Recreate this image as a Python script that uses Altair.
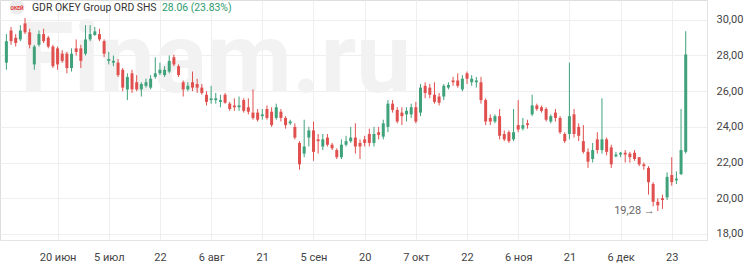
import altair as alt
import pandas as pd

# ---- data ----
dates = [d.strftime("%Y-%m-%d") for d in pd.bdate_range("2024-06-05", "2024-12-26")]

opens = [27.6, 29.4, 29.0, 28.9, 29.8, 29.3, 27.5, 28.6, 29.2, 29.0,
         28.5, 28.4, 28.1, 28.1, 27.3, 28.4, 28.4, 28.1, 28.9, 29.15,
         29.2, 28.8, 27.7, 27.6, 27.6, 27.2, 26.1, 27.0, 26.5, 26.1,
         26.3, 26.2, 26.8, 27.0, 26.9, 27.1, 27.9, 27.4, 26.5, 26.1,
         26.5, 26.4, 26.2, 25.8, 25.5, 25.5, 25.4, 25.8, 25.3, 25.2,
         25.1, 25.5, 25.1, 24.8, 24.8, 24.6, 25.0, 24.85, 24.5, 24.85,
         24.5, 24.2, 24.0, 23.1, 22.5, 23.4, 23.8, 23.3, 22.9, 23.4,
         23.0, 22.7, 22.3, 23.0, 23.2, 23.4, 23.1, 23.3, 23.6, 23.1,
         23.7, 23.45, 24.0, 25.3, 24.95, 24.8, 24.7, 24.7, 25.1, 24.8,
         26.3, 26.2, 25.8, 25.7, 25.7, 26.2, 26.6, 26.6, 26.1, 27.0,
         26.5, 26.5, 26.5, 25.5, 24.5, 24.3, 24.6, 23.6, 23.7, 23.3,
         24.1, 23.9, 24.2, 24.7, 25.2, 25.1, 25.0, 24.3, 24.8, 24.5,
         23.6, 23.6, 24.7, 24.0, 23.2, 22.6, 22.2, 23.3, 22.7, 23.3,
         22.85, 22.35, 22.45, 22.55, 22.5, 22.55, 22.3, 21.9, 21.7, 20.8,
         19.8, 20.0, 20.05, 21.3, 21.0, 21.35, 22.6]
highs = [29.2, 29.6, 29.2, 29.7, 30.1, 29.5, 28.6, 29.4, 29.5, 29.1,
         28.6, 28.5, 28.3, 28.2, 28.4, 28.9, 28.6, 29.7, 29.7, 29.6,
         29.5, 28.9, 28.2, 28.0, 27.8, 27.3, 27.0, 27.2, 26.9, 26.5,
         26.7, 26.9, 27.9, 27.6, 27.4, 28.0, 28.05, 27.5, 26.6, 26.5,
         27.1, 26.7, 26.4, 26.0, 26.3, 25.9, 25.8, 25.9, 25.4, 25.6,
         25.7, 25.6, 25.6, 26.1, 25.0, 25.0, 25.2, 25.1, 25.3, 25.0,
         24.6, 24.4, 24.2, 23.2, 24.4, 24.0, 24.3, 23.6, 23.6, 23.6,
         23.1, 22.8, 23.3, 23.5, 24.0, 24.2, 23.3, 23.5, 23.9, 24.0,
         24.0, 24.4, 25.5, 25.5, 25.1, 25.1, 25.1, 25.3, 25.4, 26.4,
         26.5, 26.4, 26.5, 25.9, 26.4, 26.5, 26.8, 27.0, 26.9, 27.1,
         26.9, 26.8, 26.8, 25.6, 24.7, 24.7, 25.0, 23.8, 23.8, 25.0,
         25.5, 24.5, 24.4, 25.8, 25.3, 25.2, 25.1, 24.7, 25.0, 24.6,
         23.7, 27.6, 25.0, 24.2, 24.1, 22.8, 23.1, 23.7, 25.6, 23.4,
         23.0, 22.6, 22.6, 22.7, 22.6, 22.7, 22.3, 22.0, 21.8, 20.9,
         20.0, 20.2, 21.45, 22.3, 21.5, 25.0, 29.36]
lows = [27.2, 28.6, 28.5, 28.8, 29.2, 28.4, 27.2, 28.5, 28.7, 28.4,
        27.3, 27.2, 27.6, 27.0, 27.1, 28.0, 27.3, 28.0, 28.8, 29.1,
        28.8, 27.9, 27.5, 27.4, 26.8, 26.0, 25.5, 25.9, 26.0, 25.7,
        26.2, 26.1, 26.7, 26.9, 26.8, 27.0, 27.4, 26.8, 25.7, 26.0,
        26.0, 25.9, 25.8, 25.2, 25.3, 25.3, 25.1, 25.3, 24.9, 24.9,
        24.9, 24.8, 24.7, 24.4, 24.3, 24.4, 24.4, 24.0, 24.4, 24.3,
        23.9, 24.1, 23.3, 21.6, 22.3, 22.9, 22.1, 22.5, 22.7, 22.9,
        22.7, 22.2, 22.2, 22.9, 23.1, 22.5, 22.2, 22.9, 22.9, 22.9,
        23.3, 23.3, 23.7, 24.8, 24.2, 24.1, 24.3, 24.5, 24.2, 24.6,
        25.6, 25.6, 25.3, 25.2, 25.5, 26.1, 26.3, 26.2, 26.0, 26.4,
        26.3, 26.2, 25.3, 24.1, 24.1, 24.2, 23.3, 23.2, 23.1, 23.2,
        23.7, 23.8, 23.9, 24.6, 24.9, 24.8, 24.3, 24.2, 24.3, 23.6,
        23.1, 23.3, 23.4, 23.2, 22.5, 21.7, 22.0, 22.5, 22.5, 22.4,
        21.7, 22.3, 22.3, 22.0, 22.0, 22.1, 21.8, 21.6, 20.2, 19.55,
        19.28, 19.4, 19.9, 20.7, 20.8, 21.3, 22.5]
closes = [28.8, 28.8, 28.7, 29.4, 29.3, 28.6, 28.5, 29.2, 28.8, 28.5,
          27.4, 27.5, 27.7, 27.3, 28.1, 28.2, 27.7, 28.9, 29.2, 29.35,
          28.9, 28.1, 27.8, 27.7, 26.9, 26.2, 26.8, 26.1, 26.1, 26.4,
          26.5, 26.7, 27.0, 27.2, 27.2, 27.7, 27.5, 26.9, 26.1, 26.3,
          26.2, 26.2, 25.9, 25.4, 25.6, 25.6, 25.5, 25.35, 25.0, 25.1,
          25.2, 24.9, 24.85, 24.5, 24.4, 24.7, 24.5, 24.1, 25.1, 24.5,
          24.1, 24.3, 23.4, 21.9, 22.9, 23.8, 22.6, 23.2, 23.3, 23.0,
          22.8, 22.3, 23.0, 23.2, 23.4, 22.9, 22.9, 23.1, 23.1, 23.6,
          23.55, 24.2, 25.3, 24.95, 24.3, 24.6, 24.9, 25.1, 24.3, 26.2,
          25.9, 25.8, 25.4, 25.35, 26.3, 26.35, 26.5, 26.3, 26.7, 26.7,
          26.7, 26.6, 25.5, 24.3, 24.3, 24.6, 23.5, 23.3, 23.2, 23.7,
          23.85, 24.1, 24.1, 25.2, 25.0, 24.9, 24.4, 24.6, 24.5, 23.7,
          23.2, 24.6, 23.6, 23.5, 22.6, 22.05, 22.7, 22.7, 23.3, 22.6,
          21.9, 22.45, 22.55, 22.45, 22.3, 22.2, 21.9, 21.8, 20.9, 19.8,
          19.6, 19.9, 21.2, 20.9, 21.1, 22.7, 28.06]

tick_dates = ["2024-06-20", "2024-07-05", "2024-07-22", "2024-08-06", "2024-08-21",
              "2024-09-05", "2024-09-20", "2024-10-07", "2024-10-22", "2024-11-06",
              "2024-11-21", "2024-12-06", "2024-12-23"]
tick_labels = ["20 июн", "5 июл", "22", "6 авг", "21", "5 сен", "20", "7 окт",
               "22", "6 ноя", "21", "6 дек", "23"]
y_ticks = [18, 20, 22, 24, 26, 28, 30]

title_name = "GDR OKEY Group ORD SHS"
title_value = "28.06 (23.83%)"
watermark = "Finam.ru"
logo_text = "ОКЕЙ"

UP = "#3fa27b"
DOWN = "#e0504f"
FONT = "Roboto"

df = pd.DataFrame({
    "i": list(range(len(dates))),
    "date": dates,
    "open": opens, "high": highs, "low": lows, "close": closes,
})
df["dir"] = ["up" if c >= o else "down" for o, c in zip(opens, closes)]

tick_idx = [dates.index(d) for d in tick_dates]
idx_str = ",".join(str(v) for v in tick_idx)
lab_str = ",".join("'" + s + "'" for s in tick_labels)
x_label_expr = f"[{lab_str}][indexof([{idx_str}], datum.value)]"

x_scale = alt.Scale(domain=[-0.3, 149.5], nice=False, zero=False)
y_scale = alt.Scale(domain=[17.66, 31.11], nice=False, zero=False)
color_scale = alt.Scale(domain=["up", "down"], range=[UP, DOWN])

x_axis = alt.Axis(values=tick_idx, labelExpr=x_label_expr, title=None,
                  grid=True, gridColor="#efefef", ticks=False,
                  domain=True, domainColor="#e4e4e4", labelOverlap=False,
                  labelPadding=11, labelFontSize=11, labelColor="#444",
                  labelFont=FONT)
y_axis = alt.Axis(orient="right", values=y_ticks, title=None,
                  labelExpr="replace(format(datum.value, '.2f'), '.', ',')",
                  grid=True, gridColor="#efefef", ticks=False,
                  domain=True, domainColor="#e4e4e4", labelOverlap=False,
                  labelPadding=9, labelFontSize=11, labelColor="#444",
                  labelFont=FONT)


def X(field):
    return alt.X(field, scale=x_scale, axis=x_axis)


def Y(field):
    return alt.Y(field, scale=y_scale, axis=y_axis)


base = alt.Chart(df)

# watermark
wm = alt.Chart(pd.DataFrame({"t": [watermark]})).mark_text(
    align="left", baseline="alphabetic", fontSize=98, fontWeight="bold",
    font=FONT, color="#f2f2f2"
).encode(x=alt.value(20), y=alt.value(92), text="t:N")

wicks = base.mark_rule(strokeWidth=1).encode(
    x=X("i:Q"),
    y=Y("low:Q"),
    y2="high:Q",
    color=alt.Color("dir:N", scale=color_scale, legend=None),
)

bodies = base.mark_bar(size=3).encode(
    x=X("i:Q"),
    y=Y("open:Q"),
    y2="close:Q",
    color=alt.Color("dir:N", scale=color_scale, legend=None),
)

# annotation at minimum low
min_i = lows.index(min(lows))
ann_df = pd.DataFrame({"i": [min_i], "v": [min(lows)],
                       "t": [f"{min(lows):.2f}".replace(".", ",") + " →"]})
ann = alt.Chart(ann_df).mark_text(
    align="right", baseline="middle", dx=-3, fontSize=11, font=FONT, color="#666"
).encode(x=X("i:Q"), y=Y("v:Q"), text="t:N")

# header
logo = alt.Chart(pd.DataFrame({"t": [logo_text]})).mark_circle(
    size=220, color="#ececec", opacity=1
).encode(x=alt.value(17), y=alt.value(7))
logo_t = alt.Chart(pd.DataFrame({"t": [logo_text]})).mark_text(
    fontSize=5, fontWeight="bold", color="#e03030", font=FONT,
    align="center", baseline="middle"
).encode(x=alt.value(17), y=alt.value(7.5), text="t:N")
t1 = alt.Chart(pd.DataFrame({"t": [title_name]})).mark_text(
    align="left", baseline="middle", fontSize=10.4, color="#333", font=FONT
).encode(x=alt.value(32), y=alt.value(8), text="t:N")
t2 = alt.Chart(pd.DataFrame({"t": [title_value]})).mark_text(
    align="left", baseline="middle", fontSize=10.4, color="#2e9a6c", font=FONT
).encode(x=alt.value(162), y=alt.value(8), text="t:N")

chart = alt.layer(wm, wicks, bodies, ann, logo, logo_t, t1, t2).properties(
    width=707, height=240,
    autosize=alt.AutoSizeParams(type="none"),
    padding={"left": 0, "top": 0, "right": 43, "bottom": 36},
).configure_view(stroke=None).configure(background="white")

chart.save("out.html", embed_options={"renderer": "svg", "actions": False})
